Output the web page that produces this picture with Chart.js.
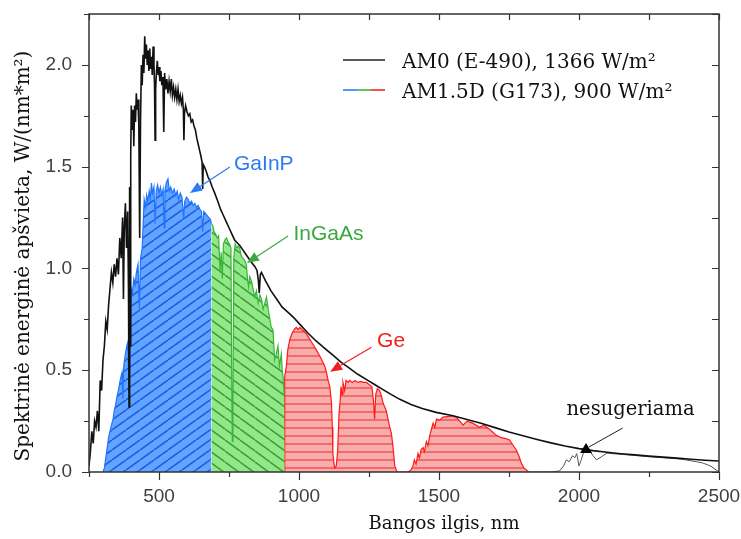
<!DOCTYPE html>
<html>
<head>
<meta charset="utf-8">
<script src="https://cdn.jsdelivr.net/npm/chart.js@4/dist/chart.umd.min.js"></script>
<style>
  html, body { margin: 0; padding: 0; background: #fff; }
  canvas { display: block; }
</style>
</head>
<body>
<canvas id="c" width="741" height="539"></canvas>
<script>
// AM0 (E-490) extraterrestrial spectrum: wavelength, nm / irradiance, W/(nm*m2)
const am0Nm = [250,255,260,265,270,275,280,285,290,295,300,305,310,315,320,325,330,335,340,345,350,355,360,365,370,373,376,380,384,388,391,393,395,397,399,401,405,408,410,413,416,419,422,425,428,431,434,437,440,443,446,449,452,455,458,461,464,467,470,473,476,479,482,484,486,488,491,494,497,500,503,507,510,514,517,520,524,528,532,536,540,544,548,552,556,560,564,568,572,576,580,584,587,589,591,595,600,605,610,615,620,625,630,635,640,645,650,654,656,658,662,668,675,682,690,699,710,720,730,740,750,760,770,780,790,800,810,820,830,842,850,855,858,862,866,880,900,920,940,960,980,1000,1030,1060,1090,1120,1150,1180,1210,1240,1270,1300,1330,1360,1400,1440,1490,1550,1600,1650,1700,1750,1800,1850,1900,1950,2000,2050,2100,2150,2200,2250,2300,2350,2400,2450,2500];
const am0W = [0.03,0.10,0.20,0.14,0.25,0.22,0.30,0.20,0.45,0.40,0.55,0.62,0.74,0.70,0.82,0.90,0.98,0.93,1.02,0.96,1.05,0.97,1.15,1.05,1.25,0.85,1.20,1.32,1.10,1.28,0.90,0.32,1.40,0.62,1.55,1.80,1.68,1.78,1.60,1.80,1.72,1.86,1.78,1.83,1.70,1.15,1.72,2.00,1.90,2.05,1.96,2.14,2.03,2.10,2.00,2.07,1.97,2.08,1.98,2.04,1.95,2.09,2.00,1.90,1.63,1.88,1.97,2.02,1.95,1.99,1.92,1.97,1.90,1.94,1.67,1.96,1.88,1.93,1.86,1.92,1.87,1.93,1.85,1.89,1.84,1.88,1.83,1.88,1.82,1.85,1.81,1.84,1.78,1.63,1.76,1.80,1.77,1.75,1.76,1.72,1.73,1.70,1.68,1.64,1.61,1.58,1.55,1.52,1.39,1.51,1.50,1.48,1.45,1.43,1.40,1.37,1.33,1.29,1.26,1.23,1.20,1.17,1.14,1.125,1.11,1.09,1.07,1.05,1.03,1.01,0.99,0.94,0.88,0.97,0.98,0.94,0.89,0.85,0.81,0.785,0.76,0.73,0.685,0.645,0.61,0.575,0.54,0.51,0.48,0.455,0.43,0.405,0.38,0.357,0.332,0.312,0.293,0.276,0.258,0.24,0.218,0.196,0.178,0.16,0.143,0.128,0.115,0.105,0.097,0.09,0.084,0.078,0.073,0.068,0.063,0.058,0.054];

// AM1.5D (G173) direct spectrum, split into the bands taken by each junction
const gainpNm = [300,305,310,315,320,330,336,340,345,350,355,360,366,368,371,374,380,385,389,393,397,401,405,410,415,419,425,430,434,440,443,447,452,456,460,465,469,473,477,482,486,490,495,500,505,510,515,518,521,526,532,537,542,548,554,560,565,570,576,582,588,592,598,604,610,616,622,628,634,640,646,652,656,660,666,672,678,684,687];
const gainpW = [0,0.02,0.07,0.12,0.17,0.23,0.26,0.30,0.33,0.37,0.40,0.44,0.48,0.49,0.36,0.52,0.58,0.62,0.64,0.38,0.55,0.90,0.88,0.95,0.92,0.98,1.02,0.80,1.05,1.10,1.20,1.34,1.30,1.36,1.33,1.38,1.34,1.42,1.37,1.40,1.22,1.38,1.41,1.37,1.40,1.36,1.39,1.20,1.38,1.42,1.44,1.38,1.40,1.37,1.39,1.36,1.38,1.34,1.37,1.35,1.25,1.33,1.35,1.34,1.32,1.33,1.31,1.32,1.30,1.31,1.29,1.28,1.18,1.28,1.27,1.26,1.25,1.24,1.22];

const ingaasNm = [687,692,697,702,708,713,718,722,726,730,735,741,747,752,757,760,762,764,767,772,778,783,788,794,800,806,812,816,820,824,830,836,842,848,854,860,866,872,878,884,890,895,901,907,913,919,925,930,937,940,943,947,949];
const ingaasW = [1.22,1.21,1.18,1.17,1.15,1.16,0.98,1.08,0.95,1.12,1.14,1.15,1.13,1.12,1.10,0.40,0.15,0.30,1.05,1.12,1.10,1.11,1.10,1.06,1.05,1.04,1.02,0.95,0.91,0.96,0.94,0.90,0.86,0.89,0.83,0.87,0.85,0.80,0.83,0.86,0.80,0.76,0.71,0.70,0.55,0.58,0.62,0.52,0.58,0.50,0.47,0.38,0.38];

const geNm = [949,949,955,960,967,975,983,990,997,1003,1010,1018,1026,1035,1044,1053,1062,1070,1078,1085,1092,1098,1104,1110,1116,1119,1121,1127,1133,1138,1143,1147,1150,1154,1157,1163,1168,1175,1181,1190,1200,1210,1220,1230,1241,1250,1260,1266,1270,1274,1280,1288,1295,1300,1306,1312,1318,1324,1330,1336,1342,1350,1390,1400,1407,1412,1418,1425,1430,1436,1443,1448,1455,1461,1467,1473,1479,1485,1491,1502,1514,1530,1550,1565,1586,1600,1620,1645,1660,1680,1705,1720,1735,1752,1765,1776,1785,1794,1803,1812,1820,1848];
const geW = [0,0.47,0.52,0.60,0.65,0.68,0.70,0.71,0.70,0.71,0.70,0.69,0.68,0.66,0.64,0.62,0.60,0.58,0.56,0.54,0.52,0.49,0.45,0.42,0.34,0.22,0.09,0.02,0.03,0.10,0.29,0.35,0.42,0.38,0.44,0.40,0.45,0.44,0.45,0.44,0.45,0.44,0.445,0.44,0.44,0.43,0.42,0.35,0.26,0.38,0.41,0.40,0.37,0.34,0.32,0.30,0.26,0.22,0.19,0.12,0.03,0,0,0.01,0.03,0.06,0.04,0.09,0.07,0.11,0.12,0.10,0.15,0.13,0.18,0.21,0.24,0.22,0.26,0.255,0.27,0.272,0.275,0.265,0.23,0.25,0.24,0.22,0.23,0.21,0.18,0.17,0.165,0.157,0.13,0.108,0.08,0.044,0.02,0.01,0,0];

// Remainder of the AM1.5D spectrum that no junction absorbs
const tailNm = [1848,1900,1930,1945,1955,1965,1977,1985,1992,2000,2008,2015,2026,2040,2050,2062,2075,2085,2100,2120,2150,2200,2250,2300,2350,2380,2400,2420,2440,2460,2475,2490,2500];
const tailW = [0,0,0.005,0.03,0.06,0.05,0.08,0.07,0.09,0.03,0.06,0.09,0.108,0.10,0.08,0.06,0.07,0.08,0.093,0.09,0.087,0.081,0.075,0.07,0.065,0.06,0.055,0.05,0.045,0.035,0.025,0.01,0];

const xTicks = [500, 1000, 1500, 2000, 2500];
const yTicks = [0, 0.5, 1.0, 1.5, 2.0];
const legendLabels = ['AM0 (E-490), 1366 W/m\u00B2', 'AM1.5D (G173), 900 W/m\u00B2'];
const bandLabels = ['GaInP', 'InGaAs', 'Ge'];
const tailLabel = 'nesugeriama';
const xTitle = 'Bangos ilgis, nm';
const yTitle = 'Spektrinė energinė apšvieta, W/(nm*m\u00B2)';

const pts = (xs, ys) => xs.map((x, i) => ({ x, y: ys[i] }));

const canvas = document.getElementById('c');
const ctx = canvas.getContext('2d');

// Hatched fills for the three junction bands
function hatch(bg, fg, w, h, dir, lw) {
  const t = document.createElement('canvas');
  t.width = w; t.height = h;
  const g = t.getContext('2d');
  g.fillStyle = bg; g.fillRect(0, 0, w, h);
  g.strokeStyle = fg; g.lineWidth = lw;
  g.beginPath();
  if (dir === 'h') {
    g.moveTo(0, h / 2); g.lineTo(w, h / 2);
  } else {
    for (const dx of [-w, 0, w]) {
      if (dir === '/') { g.moveTo(dx, h); g.lineTo(dx + w, 0); }
      else { g.moveTo(dx, 0); g.lineTo(dx + w, h); }
    }
  }
  g.stroke();
  return ctx.createPattern(t, 'repeat');
}
const bluePat = hatch('#5ea6ff', '#2a55ea', 14, 10, '/', 1.6);
const greenPat = hatch('#92e886', '#3a9e3e', 15, 11, '\\', 1.5);
const redPat = hatch('#f8acac', '#ee5c5c', 8, 8, 'h', 1.6);

// Annotation anchors in data units (nm, W/(nm*m2))
const notes = [
  { text: bandLabels[0], color: '#2a7cf0', at: [768, 1.484], from: [753, 1.498], to: [611, 1.371] },
  { text: bandLabels[1], color: '#3aa83e', at: [980, 1.140], from: [961, 1.159], to: [814, 1.027] },
  { text: bandLabels[2], color: '#f02020', at: [1279, 0.614], from: [1259, 0.613], to: [1111, 0.493] }
];
const tailNote = { text: tailLabel, at: [2184, 0.28], from: [2156, 0.216], to: [2025, 0.113] };

function arrow(c, x0, y0, x1, y1, color) {
  const a = Math.atan2(y1 - y0, x1 - x0);
  const L = 12, W = 5;
  c.strokeStyle = color; c.fillStyle = color; c.lineWidth = 1.2;
  c.beginPath();
  c.moveTo(x0, y0);
  c.lineTo(x1 - L * Math.cos(a), y1 - L * Math.sin(a));
  c.stroke();
  c.beginPath();
  c.moveTo(x1, y1);
  c.lineTo(x1 - L * Math.cos(a) + W * Math.sin(a), y1 - L * Math.sin(a) - W * Math.cos(a));
  c.lineTo(x1 - L * Math.cos(a) - W * Math.sin(a), y1 - L * Math.sin(a) + W * Math.cos(a));
  c.closePath();
  c.fill();
}

// Drop the automatic label overhang so the plot box follows the layout padding
function noOverhang(s) {
  s.paddingTop = 0; s.paddingBottom = 0; s.paddingLeft = 0; s.paddingRight = 0;
}

const decor = {
  id: 'decor',
  afterDraw(chart) {
    const c = chart.ctx;
    const a = chart.chartArea;
    const x = chart.scales.x, y = chart.scales.y;
    c.save();

    // axis frame
    c.strokeStyle = '#333'; c.lineWidth = 1.5;
    c.strokeRect(a.left, a.top, a.right - a.left, a.bottom - a.top);

    // tick marks: outward on bottom/left, inward on top/right
    c.lineWidth = 1.2;
    c.beginPath();
    for (let v = 250; v <= 2500; v += 250) {
      const px = Math.round(x.getPixelForValue(v)) + 0.5;
      const major = v % 500 === 0;
      c.moveTo(px, a.bottom); c.lineTo(px, a.bottom + (major ? 8 : 5));
      c.moveTo(px, a.top); c.lineTo(px, a.top + 6);
    }
    for (let v = 0; v <= 2.25 + 1e-9; v += 0.25) {
      const py = Math.round(y.getPixelForValue(v)) + 0.5;
      const major = Math.abs(v / 0.5 - Math.round(v / 0.5)) < 1e-6;
      c.moveTo(a.left, py); c.lineTo(a.left - (major ? 7 : 5), py);
      c.moveTo(a.right, py); c.lineTo(a.right - 7, py);
    }
    c.stroke();

    // legend
    const lx0 = 343, lx1 = 385;
    c.lineWidth = 1.6;
    c.strokeStyle = '#222';
    c.beginPath(); c.moveTo(lx0, 60); c.lineTo(lx1, 60); c.stroke();
    const seg = (lx1 - lx0) / 3;
    [['#2a7cff', 0], ['#3cb43c', 1], ['#ff2020', 2]].forEach(([col, i]) => {
      c.strokeStyle = col;
      c.beginPath(); c.moveTo(lx0 + seg * i, 90); c.lineTo(lx0 + seg * (i + 1), 90); c.stroke();
    });
    c.fillStyle = '#111';
    c.font = '20px "DejaVu Serif"';
    c.textAlign = 'left'; c.textBaseline = 'alphabetic';
    c.fillText(legendLabels[0], 402, 68);
    c.fillText(legendLabels[1], 402, 98);

    // band annotations
    c.font = '21px "Liberation Sans"';
    notes.forEach(n => {
      c.fillStyle = n.color;
      c.textAlign = 'left';
      c.fillText(n.text, x.getPixelForValue(n.at[0]), y.getPixelForValue(n.at[1]));
      arrow(c, x.getPixelForValue(n.from[0]), y.getPixelForValue(n.from[1]),
               x.getPixelForValue(n.to[0]), y.getPixelForValue(n.to[1]), n.color);
    });

    // unabsorbed part note
    c.font = '19.5px "DejaVu Serif"';
    c.fillStyle = '#111'; c.textAlign = 'center';
    c.fillText(tailNote.text, x.getPixelForValue(tailNote.at[0]), y.getPixelForValue(tailNote.at[1]));
    const tx = x.getPixelForValue(tailNote.to[0]), ty = y.getPixelForValue(tailNote.to[1]);
    c.strokeStyle = '#222'; c.lineWidth = 1;
    c.beginPath();
    c.moveTo(x.getPixelForValue(tailNote.from[0]), y.getPixelForValue(tailNote.from[1]));
    c.lineTo(tx + 3, ty - 2);
    c.stroke();
    c.fillStyle = '#000';
    c.beginPath();
    c.moveTo(tx, ty - 6); c.lineTo(tx + 6, ty + 4); c.lineTo(tx - 6, ty + 4);
    c.closePath(); c.fill();

    // axis titles
    c.fillStyle = '#111';
    c.font = '18px "DejaVu Serif"';
    c.textAlign = 'center'; c.textBaseline = 'middle';
    c.fillText(xTitle, 444, 524);
    c.save();
    c.translate(24, 256);
    c.rotate(-Math.PI / 2);
    c.font = '20px "DejaVu Serif"';
    c.fillText(yTitle, 0, 0);
    c.restore();

    c.restore();
  }
};

new Chart(ctx, {
  type: 'line',
  data: {
    datasets: [
      { label: legendLabels[0], data: pts(am0Nm, am0W), borderColor: '#111', borderWidth: 1.6, fill: false, order: 0 },
      { label: bandLabels[0], data: pts(gainpNm, gainpW), borderColor: '#1f74ff', borderWidth: 1.2, backgroundColor: bluePat, fill: 'origin', order: 1 },
      { label: bandLabels[1], data: pts(ingaasNm, ingaasW), borderColor: '#3cb43c', borderWidth: 1.2, backgroundColor: greenPat, fill: 'origin', order: 1 },
      { label: bandLabels[2], data: pts(geNm, geW), borderColor: '#ff1a1a', borderWidth: 1.2, backgroundColor: redPat, fill: 'origin', order: 1 },
      { label: tailLabel, data: pts(tailNm, tailW), borderColor: '#555', borderWidth: 1, fill: false, order: 1 }
    ]
  },
  options: {
    responsive: false,
    animation: false,
    devicePixelRatio: 1,
    layout: { padding: { top: 14, right: 22, left: 0, bottom: 0 } },
    elements: { point: { radius: 0 }, line: { tension: 0 } },
    plugins: { legend: { display: false }, tooltip: { enabled: false } },
    scales: {
      x: {
        type: 'linear', min: 250, max: 2500,
        afterFit(s) { s.height = 67; noOverhang(s); },
        afterBuildTicks(s) { s.ticks = xTicks.map(v => ({ value: v })); },
        grid: { display: false, drawTicks: false },
        border: { display: false },
        ticks: { padding: 13, maxRotation: 0, autoSkip: false, color: '#404040',
                 callback: v => String(v),
                 font: { family: 'Liberation Sans', size: 19 } }
      },
      y: {
        type: 'linear', min: 0, max: 2.25,
        afterFit(s) { s.width = 89; noOverhang(s); },
        afterBuildTicks(s) { s.ticks = yTicks.map(v => ({ value: v })); },
        grid: { display: false, drawTicks: false },
        border: { display: false },
        ticks: { padding: 17, color: '#404040', callback: v => v.toFixed(1),
                 font: { family: 'Liberation Sans', size: 19 } }
      }
    }
  },
  plugins: [decor]
});
</script>
</body>
</html>
